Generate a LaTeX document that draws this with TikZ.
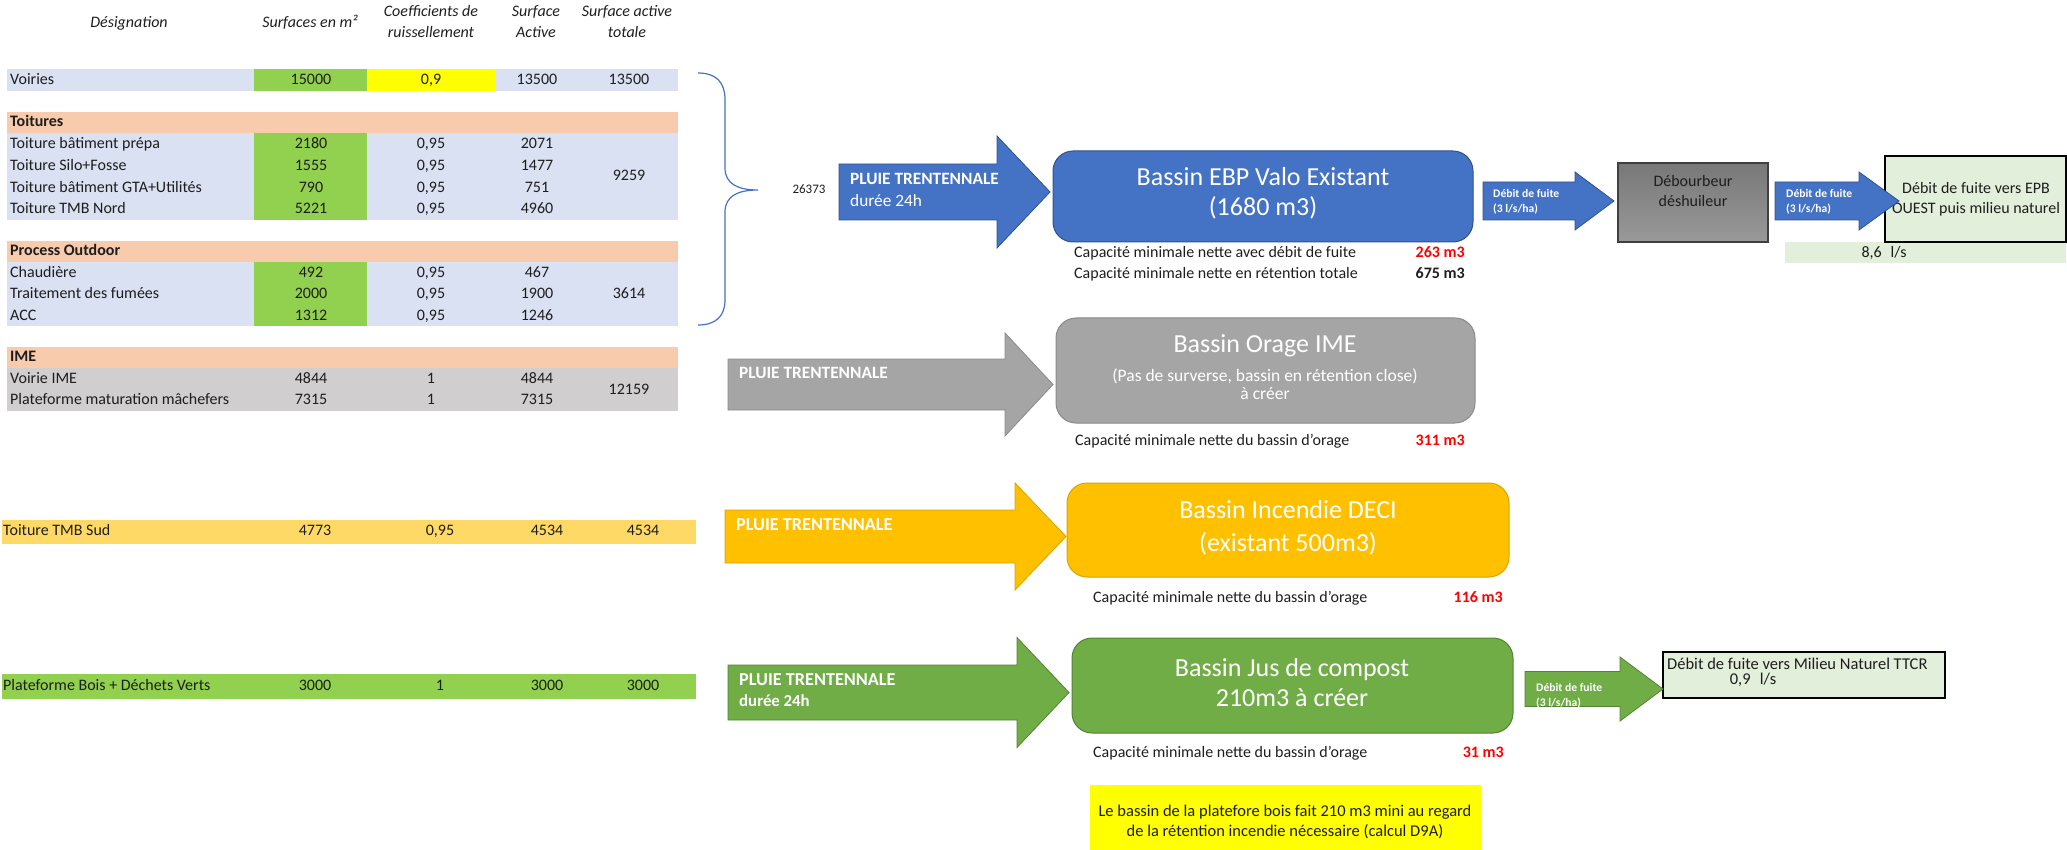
\documentclass[tikz,border=0pt]{standalone}
\usepackage{fontspec}
\setmainfont{Carlito}
\definecolor{rowblue}{HTML}{D9E1F2}
\definecolor{cellgreen}{HTML}{92D050}
\definecolor{cellyellow}{HTML}{FFFF00}
\definecolor{salmon}{HTML}{F8CBAD}
\definecolor{rowgray}{HTML}{D0CECE}
\definecolor{rowgold}{HTML}{FFD966}
\definecolor{ablue}{HTML}{4472C4}
\definecolor{abluedk}{HTML}{2F528F}
\definecolor{agray}{HTML}{A5A5A5}
\definecolor{agraydk}{HTML}{8A8A8A}
\definecolor{aorange}{HTML}{FFC000}
\definecolor{aorangedk}{HTML}{D9A300}
\definecolor{agreen}{HTML}{70AD47}
\definecolor{agreendk}{HTML}{548235}
\definecolor{palegreen}{HTML}{E2EFDA}
\definecolor{ink}{HTML}{1E1E1E}
\newcommand{\fsz}[1]{\fontsize{#1}{#1}\selectfont}
% block arrow: style, x start, x head base, x tip, y centre, body half height, head half height
\newcommand{\blockarrow}[7]{%
  \path[#1] (#2,#5-#6) -- (#3,#5-#6) -- (#3,#5-#7) -- (#4,#5)
    -- (#3,#5+#7) -- (#3,#5+#6) -- (#2,#5+#6) -- cycle;}
% one table row: name, y, label, surface, coefficient, active surface
\newcommand{\tabrow}[6]{%
  \node[tx,anchor=west] (#1l) at (10,#2) {#3};
  \node[tx] (#1s) at (311,#2) {#4};
  \node[tx] (#1c) at (431,#2) {#5};
  \node[tx] (#1a) at (537,#2) {#6};}
\begin{document}
\begin{tikzpicture}[x=1pt,y=-1pt,
  tx/.style={inner sep=0pt,text height=0.66em,text depth=0pt,font=\fsz{16},text=ink},
  hd/.style={tx,font=\fsz{16}\itshape},
  grp/.style={tx,font=\fsz{16}\bfseries},
  wt/.style={inner sep=0pt,text height=0.66em,text depth=0pt,text=white},
  rain/.style={wt,anchor=west,font=\fsz{17.3}\bfseries},
  title/.style={wt,font=\fsz{26}},
  capline/.style={tx,anchor=west,font=\fsz{16}},
  capval/.style={tx,anchor=east,font=\fsz{16}\bfseries},
  leak/.style={wt,anchor=west,font=\fsz{11.6}\bfseries},
  basin/.style={rounded corners=20,line width=1,inner sep=0pt},
  plain/.style={inner sep=0pt,line width=1}]
\useasboundingbox (0,0) rectangle (2067,850);

% ---------- table header ----------
\node[hd] (hdes) at (129,24) {Désignation};
\node[hd] (hsurf) at (310,24) {Surfaces en m²};
\node[hd] (hcoef1) at (431,13) {Coefficients de};
\node[hd] (hcoef2) at (431,34) {ruissellement};
\node[hd] (hact1) at (536,13) {Surface};
\node[hd] (hact2) at (536,34) {Active};
\node[hd] (htot1) at (627,13) {Surface active};
\node[hd] (htot2) at (627,34) {totale};

% ---------- table cells ----------
\fill[rowblue] (7,69) rectangle (678,91);
\fill[cellgreen] (254,69) rectangle (367,91);
\fill[cellyellow] (367,69) rectangle (495,91);
\fill[salmon] (7,112) rectangle (678,133);
\fill[rowblue] (7,133) rectangle (678,220);
\fill[cellgreen] (254,133) rectangle (367,220);
\fill[salmon] (7,241) rectangle (678,262);
\fill[rowblue] (7,262) rectangle (678,326);
\fill[cellgreen] (254,262) rectangle (367,326);
\fill[salmon] (7,347) rectangle (678,368);
\fill[rowgray] (7,368) rectangle (678,411);
\fill[rowgold] (2,520) rectangle (696,544);
\fill[cellgreen] (2,674) rectangle (696,699);

% ---------- table rows ----------
\tabrow{voi}{81}{Voiries}{15000}{0,9}{13500}
\node[tx] (voit) at (629,81) {13500};

\node[grp,anchor=west] (gtoit) at (10,123) {Toitures};
\tabrow{ta}{145}{Toiture bâtiment prépa}{2180}{0,95}{2071}
\tabrow{tb}{167}{Toiture Silo+Fosse}{1555}{0,95}{1477}
\tabrow{tc}{189}{Toiture bâtiment GTA+Utilités}{790}{0,95}{751}
\tabrow{td}{210}{Toiture TMB Nord}{5221}{0,95}{4960}
\node[tx] (ttot) at (629,177) {9259};

\node[grp,anchor=west] (gproc) at (10,252) {Process Outdoor};
\tabrow{pa}{274}{Chaudière}{492}{0,95}{467}
\tabrow{pb}{295}{Traitement des fumées}{2000}{0,95}{1900}
\tabrow{pc}{317}{ACC}{1312}{0,95}{1246}
\node[tx] (ptot) at (629,295) {3614};

\node[grp,anchor=west] (gime) at (10,358) {IME};
\tabrow{ia}{380}{Voirie IME}{4844}{1}{4844}
\tabrow{ib}{401}{Plateforme maturation mâchefers}{7315}{1}{7315}
\node[tx] (itot) at (629,391) {12159};

\node[tx,anchor=west] (suda) at (3,532) {Toiture TMB Sud};
\node[tx] (suds) at (315,532) {4773};
\node[tx] (sudc) at (440,532) {0,95};
\node[tx] (suda2) at (547,532) {4534};
\node[tx] (sudt) at (643,532) {4534};

\node[tx,anchor=west] (boisl) at (3,687) {Plateforme Bois + Déchets Verts};
\node[tx] (boiss) at (315,687) {3000};
\node[tx] (boisc) at (440,687) {1};
\node[tx] (boisa) at (547,687) {3000};
\node[tx] (boist) at (643,687) {3000};

% ---------- brace gathering the first three groups ----------
\draw[ablue,line width=1.2]
  (698,73) .. controls (716,73) and (725,82) .. (725,100) -- (725,168)
  .. controls (725,184) and (738,190) .. (758,190)
  .. controls (738,190) and (725,196) .. (725,212) -- (725,300)
  .. controls (725,316) and (716,325) .. (698,325);
\node[tx,font=\fsz{13}] (sum) at (809,190) {26373};

% ---------- basins ----------
\node[basin,fill=ablue,draw=abluedk,minimum width=420,minimum height=91] (ebp) at (1263,196.5) {};
\node[basin,fill=agray,draw=agraydk,minimum width=419,minimum height=105] (ime) at (1265.5,370.5) {};
\node[basin,fill=aorange,draw=aorangedk,minimum width=442,minimum height=94] (deci) at (1288,530) {};
\node[basin,fill=agreen,draw=agreendk,minimum width=441,minimum height=95] (comp) at (1292.5,685.5) {};

\node[title] (ebp1) at (1263,182) {Bassin EBP Valo Existant};
\node[title] (ebp2) at (1263,212) {(1680 m3)};
\node[title] (ime1) at (1265,349) {Bassin Orage IME};
\node[wt,font=\fsz{17.5}] (ime2) at (1265,378) {(Pas de surverse, bassin en rétention close)};
\node[wt,font=\fsz{17.5}] (ime3) at (1265,396) {à créer};
\node[title] (deci1) at (1288,515) {Bassin Incendie DECI};
\node[title] (deci2) at (1288,548) {(existant 500m3)};
\node[title] (comp1) at (1292,673) {Bassin Jus de compost};
\node[title] (comp2) at (1292,703) {210m3 à créer};

% ---------- rain arrows ----------
\blockarrow{fill=ablue,draw=abluedk,line width=0.8}{839}{997}{1050}{192}{28}{56}
\node[rain] (r1a) at (850,181) {PLUIE TRENTENNALE};
\node[wt,anchor=west,font=\fsz{17.3}] (r1b) at (850,203) {durée 24h};
\blockarrow{fill=agray,draw=agraydk,line width=0.8}{728}{1005}{1053}{384.5}{25.5}{51.5}
\node[rain] (r2a) at (739,375) {PLUIE TRENTENNALE};
\blockarrow{fill=aorange,draw=aorangedk,line width=0.8}{725}{1015}{1066}{536.5}{26.5}{53.5}
\node[rain,font=\fsz{18.2}\bfseries] (r3a) at (736,527) {PLUIE TRENTENNALE};
\blockarrow{fill=agreen,draw=agreendk,line width=0.8}{728}{1017}{1069}{692.5}{27.5}{55}
\node[rain,font=\fsz{18.2}\bfseries] (r4a) at (739,682) {PLUIE TRENTENNALE};
\node[rain,font=\fsz{16.8}\bfseries] (r4b) at (739,703) {durée 24h};

% ---------- capacities ----------
\node[capline] (c1a) at (1074,254) {Capacité minimale nette avec débit de fuite};
\node[capval,text=red] (c1b) at (1465,254) {263 m3};
\node[capline] (c2a) at (1074,275) {Capacité minimale nette en rétention totale};
\node[capval] (c2b) at (1465,275) {675 m3};
\node[capline] (c3a) at (1075,442) {Capacité minimale nette du bassin d'orage};
\node[capval,text=red] (c3b) at (1465,442) {311 m3};
\node[capline] (c4a) at (1093,599) {Capacité minimale nette du bassin d'orage};
\node[capval,text=red] (c4b) at (1503,599) {116 m3};
\node[capline] (c5a) at (1093,754) {Capacité minimale nette du bassin d'orage};
\node[capval,text=red] (c5b) at (1504,754) {31 m3};

% ---------- leakage chain of the EBP basin ----------
\blockarrow{fill=ablue,draw=abluedk,line width=0.8}{1483}{1575}{1614}{201}{19}{29}
\node[leak] (l1a) at (1493,194) {Débit de fuite};
\node[leak] (l1b) at (1493,209) {(3 l/s/ha)};
\node[plain,draw=black!75,line width=1.5,minimum width=150,minimum height=79,
  top color=black!53,bottom color=black!40] (sep) at (1693,202.5) {};
\node[tx,font=\fsz{16}] (sep1) at (1693,183) {Débourbeur};
\node[tx,font=\fsz{16}] (sep2) at (1693,203) {déshuileur};
\node[plain,fill=palegreen,minimum width=281,minimum height=21] (bar) at (1925.5,252.5) {};
\node[tx,font=\fsz{16}] (barv) at (1884,254) {8,6\,\, l/s};
\node[plain,fill=palegreen,draw=black,line width=2,minimum width=181,minimum height=86] (epb) at (1975.5,199) {};
\node[tx,font=\fsz{16}] (epb1) at (1976,190) {Débit de fuite vers EPB};
\node[tx,font=\fsz{16}] (epb2) at (1976,210) {OUEST puis milieu naturel};
\blockarrow{fill=ablue,draw=abluedk,line width=0.8}{1775}{1859}{1899}{201}{19}{29}
\node[leak] (l2a) at (1786,194) {Débit de fuite};
\node[leak] (l2b) at (1786,209) {(3 l/s/ha)};

% ---------- leakage of the compost basin ----------
\node[plain,fill=palegreen,draw=black,line width=2,minimum width=282,minimum height=46] (ttcr) at (1804,675) {};
\node[tx,anchor=west,font=\fsz{16.5}] (ttcr1) at (1667,666) {Débit de fuite vers Milieu Naturel TTCR};
\node[tx,font=\fsz{16.5}] (ttcr2) at (1753,681) {0,9\,\, l/s};
\blockarrow{fill=agreen,draw=agreendk,line width=0.8}{1525}{1620}{1663}{689}{17.5}{32}
\node[leak] (l3a) at (1536,688) {Débit de fuite};
\node[leak] (l3b) at (1536,703) {(3 l/s/ha)};

% ---------- note ----------
\node[plain,fill=cellyellow,minimum width=391,minimum height=65] (note) at (1285.5,817.5) {};
\node[tx,font=\fsz{16.5}] (note1) at (1285,813) {Le bassin de la platefore bois fait 210 m3 mini au regard};
\node[tx,font=\fsz{16.5}] (note2) at (1285,833) {de la rétention incendie nécessaire (calcul D9A)};
\end{tikzpicture}
\end{document}
